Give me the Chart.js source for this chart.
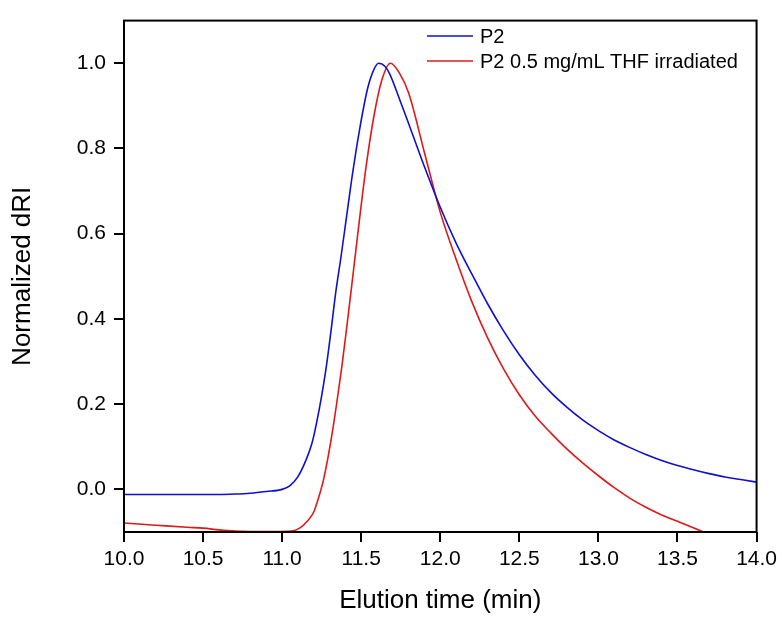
<!DOCTYPE html>
<html>
<head>
<meta charset="utf-8">
<script src="https://cdn.jsdelivr.net/npm/chart.js@4"></script>
<style>
  body { margin: 0; background: #fff; }
  canvas { display: block; }
</style>
</head>
<body>
<canvas id="chart" width="782" height="618"></canvas>
<script>
// Data
const p2Time  = [10.0, 10.3, 10.6, 10.7, 10.8, 10.9, 11.0, 11.05, 11.1, 11.15, 11.19, 11.22, 11.25, 11.28, 11.31, 11.34, 11.37, 11.4, 11.44, 11.49, 11.54, 11.58, 11.61, 11.65, 11.68, 11.74, 11.81, 11.9, 12.0, 12.1, 12.2, 12.3, 12.4, 12.5, 12.6, 12.7, 12.8, 12.9, 13.0, 13.1, 13.2, 13.3, 13.4, 13.5, 13.6, 13.7, 13.8, 13.9, 14.0];
const p2Value = [-0.012, -0.012, -0.012, -0.011, -0.009, -0.005, 0.0, 0.009, 0.03, 0.068, 0.11, 0.16, 0.22, 0.29, 0.375, 0.465, 0.54, 0.62, 0.728, 0.845, 0.94, 0.985, 1.0, 0.993, 0.975, 0.918, 0.848, 0.757, 0.662, 0.578, 0.505, 0.435, 0.372, 0.316, 0.268, 0.227, 0.193, 0.163, 0.138, 0.116, 0.098, 0.082, 0.068, 0.056, 0.046, 0.037, 0.029, 0.023, 0.017];

const irrTime  = [10.0, 10.2, 10.4, 10.5, 10.6, 10.7, 10.8, 11.0, 11.06, 11.11, 11.16, 11.2, 11.23, 11.26, 11.29, 11.32, 11.35, 11.38, 11.41, 11.44, 11.48, 11.53, 11.58, 11.63, 11.685, 11.74, 11.8, 11.9, 12.0, 12.1, 12.2, 12.3, 12.4, 12.5, 12.6, 12.7, 12.8, 12.9, 13.0, 13.1, 13.2, 13.3, 13.4, 13.5, 13.6, 13.7];
const irrValue = [-0.079, -0.084, -0.089, -0.091, -0.095, -0.098, -0.099, -0.099, -0.098, -0.091, -0.074, -0.053, -0.02, 0.02, 0.075, 0.14, 0.215, 0.295, 0.385, 0.478, 0.605, 0.755, 0.875, 0.96, 1.0, 0.978, 0.93, 0.79, 0.65, 0.54, 0.44, 0.355, 0.283, 0.222, 0.172, 0.132, 0.095, 0.062, 0.032, 0.004, -0.021, -0.042, -0.06, -0.075, -0.09, -0.106];

const xTicks = [10.0, 10.5, 11.0, 11.5, 12.0, 12.5, 13.0, 13.5, 14.0];
const yTicks = [0.0, 0.2, 0.4, 0.6, 0.8, 1.0];

const seriesNames = ['P2', 'P2 0.5 mg/mL THF irradiated'];
const seriesColors = ['#1010d0', '#e01818'];

const toPoints = (xs, ys) => xs.map((x, i) => ({ x: x, y: ys[i] }));

const FONT = "'Liberation Sans', Arial, sans-serif";

// Box round the plot area
const frame = {
    id: 'frame',
    afterDatasetsDraw(chart) {
        const a = chart.chartArea;
        const ctx = chart.ctx;
        ctx.save();
        ctx.strokeStyle = '#000';
        ctx.lineWidth = 2;
        ctx.strokeRect(a.left, a.top, a.right - a.left, a.bottom - a.top);
        ctx.restore();
    }
};

// Legend inside the plot, top right
const insideLegend = {
    id: 'insideLegend',
    afterDatasetsDraw(chart) {
        const ctx = chart.ctx;
        ctx.save();
        ctx.font = '20px ' + FONT;
        ctx.textBaseline = 'middle';
        ctx.fillStyle = '#000';
        chart.data.datasets.forEach((ds, i) => {
            const y = 36 + i * 25;
            ctx.strokeStyle = ds.borderColor;
            ctx.lineWidth = 1.5;
            ctx.beginPath();
            ctx.moveTo(427, y);
            ctx.lineTo(473, y);
            ctx.stroke();
            ctx.fillText(ds.label, 480, y + 1);
        });
        ctx.restore();
    }
};

new Chart(document.getElementById('chart'), {
    type: 'line',
    data: {
        datasets: [
            {
                label: seriesNames[0],
                data: toPoints(p2Time, p2Value),
                borderColor: seriesColors[0],
                borderWidth: 1.6,
                pointRadius: 0,
                cubicInterpolationMode: 'monotone'
            },
            {
                label: seriesNames[1],
                data: toPoints(irrTime, irrValue),
                borderColor: seriesColors[1],
                borderWidth: 1.6,
                pointRadius: 0,
                cubicInterpolationMode: 'monotone'
            }
        ]
    },
    options: {
        responsive: false,
        maintainAspectRatio: false,
        animation: false,
        layout: { padding: { left: 0, top: 13, right: 25, bottom: 0 } },
        plugins: {
            legend: { display: false },
            tooltip: { enabled: false }
        },
        scales: {
            x: {
                type: 'linear',
                min: 10,
                max: 14,
                afterBuildTicks: s => { s.ticks = xTicks.map(v => ({ value: v })); },
                afterFit: s => { s.height = 86; },
                border: { display: false },
                grid: { drawOnChartArea: false, drawTicks: true, tickLength: 10, color: '#000', lineWidth: 2 },
                ticks: {
                    color: '#000',
                    padding: 5,
                    maxRotation: 0,
                    font: { family: FONT, size: 21 },
                    callback: v => v.toFixed(1)
                },
                title: {
                    display: true,
                    text: 'Elution time (min)',
                    color: '#000',
                    font: { family: FONT, size: 26 },
                    padding: { top: 0, bottom: 2 }
                }
            },
            y: {
                type: 'linear',
                min: -0.1,
                max: 1.1,
                afterBuildTicks: s => { s.ticks = yTicks.map(v => ({ value: v })); },
                afterFit: s => { s.width = 124; },
                border: { display: false },
                grid: { drawOnChartArea: false, drawTicks: true, tickLength: 10, color: '#000', lineWidth: 2 },
                ticks: {
                    color: '#000',
                    padding: 8,
                    font: { family: FONT, size: 21 },
                    callback: v => v.toFixed(1)
                },
                title: {
                    display: true,
                    text: 'Normalized dRI',
                    color: '#000',
                    font: { family: FONT, size: 26 },
                    padding: { top: 7, bottom: 0 }
                }
            }
        }
    },
    plugins: [frame, insideLegend]
});
</script>
</body>
</html>
